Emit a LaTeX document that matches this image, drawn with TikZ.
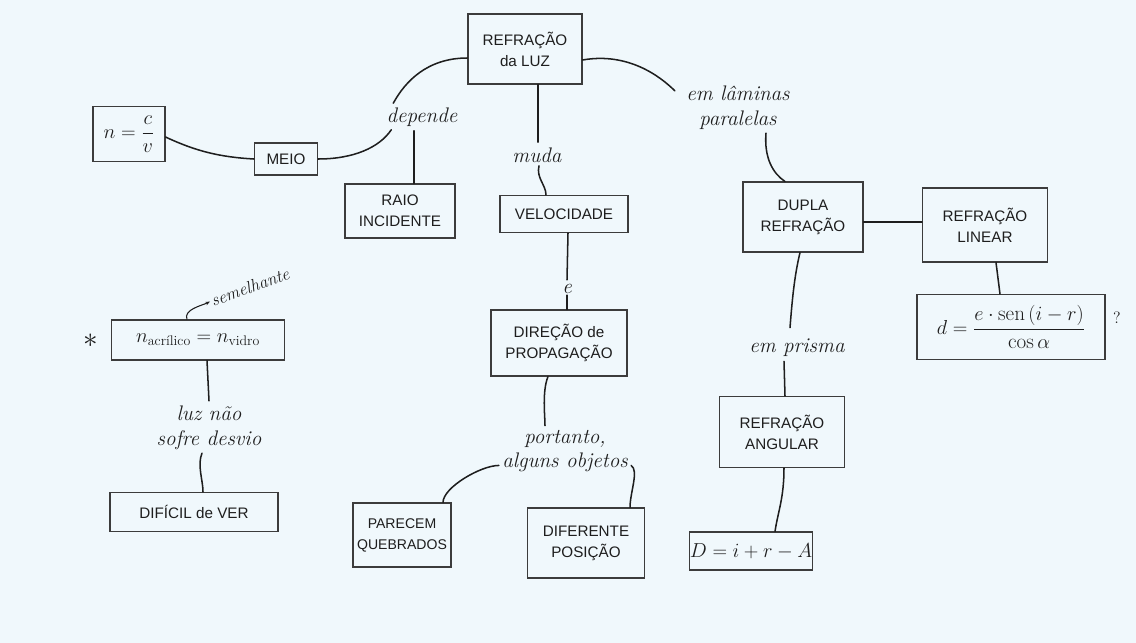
\documentclass[tikz,border=0pt]{standalone}
\usepackage{amsmath}
\usepackage{fontspec}
\newfontfamily\capsfont{Liberation Sans}
\usetikzlibrary{calc,arrows.meta}
\definecolor{paper}{RGB}{240,248,252}
\definecolor{ink}{RGB}{30,30,30}
\definecolor{frame}{RGB}{60,60,60}
\begin{document}
\begin{tikzpicture}[x=0.03cm,y=-0.03cm,
  concept/.style={draw=frame, line width=0.9pt, align=center, inner sep=0pt,
    text=ink, font=\capsfont\fontsize{13}{18}\selectfont},
  formula/.style={concept, font=\fontsize{15}{18}\selectfont},
  linkword/.style={align=center, inner sep=1pt, text=ink,
    font=\itshape\fontsize{18}{21}\selectfont},
  conn/.style={draw=ink, line width=1.3pt, line cap=round}]

% sheet
\fill[paper] (0,0) rectangle (1136,643);
\useasboundingbox (0,0) rectangle (1136,643);

% concepts
\node[concept, minimum width=3.42cm, minimum height=2.1cm] (luz) at (525,49) {REFRAÇÃO\\da LUZ};
\node[formula, minimum width=2.16cm, minimum height=1.65cm, font=\fontsize{16}{18}\selectfont] (nform) at (129,134) {$n=\dfrac{c}{v}$};
\node[concept, minimum width=1.89cm, minimum height=0.96cm] (meio) at (286,159) {MEIO};
\node[concept, minimum width=3.3cm, minimum height=1.62cm] (raio) at (400,211) {RAIO\\INCIDENTE};
\node[concept, minimum width=3.84cm, minimum height=1.11cm] (veloc) at (564,214) {VELOCIDADE};
\node[concept, minimum width=4.08cm, minimum height=1.98cm] (direcao) at (559,343) {DIREÇÃO de\\PROPAGAÇÃO};
\node[concept, minimum width=2.94cm, minimum height=1.92cm, font=\capsfont\fontsize{12}{18}\selectfont] (parecem) at (402,535) {PARECEM\\QUEBRADOS};
\node[concept, minimum width=3.51cm, minimum height=2.1cm] (diferente) at (586,543) {DIFERENTE\\POSIÇÃO};
\node[concept, minimum width=3.6cm, minimum height=2.1cm] (dupla) at (803,217) {DUPLA\\REFRAÇÃO};
\node[concept, minimum width=3.75cm, minimum height=2.22cm] (linear) at (985,225) {REFRAÇÃO\\LINEAR};
\node[formula, minimum width=5.64cm, minimum height=1.95cm, font=\fontsize{18}{20}\selectfont] (dform) at (1011,327) {$d=\dfrac{e\cdot\mathrm{sen}\,(i-r)}{\cos\alpha}$};
\node[concept, minimum width=3.75cm, minimum height=2.13cm] (angular) at (782,432) {REFRAÇÃO\\ANGULAR};
\node[formula, minimum width=3.66cm, minimum height=1.14cm, font=\fontsize{17}{19}\selectfont] (Dform) at (751,551) {$D=i+r-A$};
\node[formula, minimum width=5.19cm, minimum height=1.2cm, font=\fontsize{17}{19}\selectfont] (nacr) at (198,340) {$n_{\text{acrílico}}=n_{\text{vidro}}$};
\node[concept, minimum width=5.04cm, minimum height=1.17cm] (dificil) at (194,512) {DIFÍCIL de VER};

% linking words
\node[linkword] (depende) at (422,117) {depende};
\node[linkword] (muda) at (537,155) {muda};
\node[linkword] (econj) at (567,289) {e};
\node[linkword] (portanto) at (565,451) {portanto,\\alguns objetos};
\node[linkword] (laminas) at (738,108) {em lâminas\\paralelas};
\node[linkword] (prisma) at (797,348) {em prisma};
\node[linkword] (luznao) at (209,428) {luz não\\sofre desvio};
\node[linkword, font=\itshape\fontsize{15}{17}\selectfont, rotate=20] (semel) at (250,287) {semelhante};
\node[text=ink, font=\fontsize{26}{26}\selectfont, inner sep=0pt] (ast) at (91,341) {$\ast$};
\node[linkword, font=\fontsize{14}{16}\selectfont] (quest) at (1117,318) {?};

% connectors
\draw[conn] ($(luz.west)+(0,9)$) .. controls +(-40,0) and +(12,-22) .. ($(depende.north west)+(8,-3)$);
\draw[conn] ($(depende.south west)+(6,2)$) .. controls +(-12,18) and +(35,0) .. (meio.east);
\draw[conn] ($(depende.south)+(-8,3)$) -- ($(raio.north)+(14,0)$);
\draw[conn] ($(nform.east)+(0,3)$) .. controls +(30,14) and +(-35,-2) .. (meio.west);
\draw[conn] ($(luz.south)+(13,0)$) -- ($(muda.north)+(1,-4)$);
\draw[conn] ($(muda.south)+(2,2)$) .. controls +(-3,12) and +(0,-10) .. ($(veloc.north)+(-18,0)$);
\draw[conn] ($(veloc.south)+(4,0)$) -- ($(econj.north)+(0,-3)$);
\draw[conn] (econj.south) -- (econj.south |- direcao.north);
\draw[conn] ($(direcao.south)+(-11,0)$) .. controls +(-6,15) and +(0,-10) .. ($(portanto.north)+(-20,-3)$);
\draw[conn] ($(portanto.south west)+(-2,-8)$) .. controls +(-18,0) and +(0,-15) .. ($(parecem.north)+(41,0)$);
\draw[conn] ($(portanto.south east)+(2,-8)$) .. controls +(8,5) and +(0,-15) .. ($(diferente.north)+(44,0)$);
\draw[conn] ($(luz.east)+(0,11)$) .. controls +(45,-8) and +(-15,-15) .. ($(laminas.north west)+(-10,6)$);
\draw[conn] ($(laminas.south)+(28,2)$) .. controls +(-2,25) and +(-12,-8) .. ($(dupla.north)+(-18,0)$);
\draw[conn] ($(dupla.east)+(0,5)$) -- ($(linear.west)+(0,-3)$);
\draw[conn] ($(linear.south)+(11,0)$) -- ($(dform.north)+(-11,0)$);
\draw[conn] ($(dupla.south)+(-3,0)$) .. controls +(-6,25) and +(2,-25) .. ($(prisma.north)+(-7,-10)$);
\draw[conn] ($(prisma.south)+(-13,3)$) -- ($(angular.north)+(3,0)$);
\draw[conn] ($(angular.south)+(2,0)$) .. controls +(0,30) and +(3,-20) .. ($(Dform.north)+(24,0)$);
\draw[conn] ($(nacr.south)+(9,0)$) -- ($(luznao.north)+(0,-4)$);
\draw[conn] ($(luznao.south)+(-7,2)$) .. controls +(-5,12) and +(0,-12) .. ($(dificil.north)+(9,0)$);
\draw[ink, line width=0.9pt, -{Stealth[length=4pt]}] ($(nacr.north)+(-11,0)$) .. controls +(-4,-10) and +(-8,4) .. (semel.west);
\end{tikzpicture}
\end{document}
